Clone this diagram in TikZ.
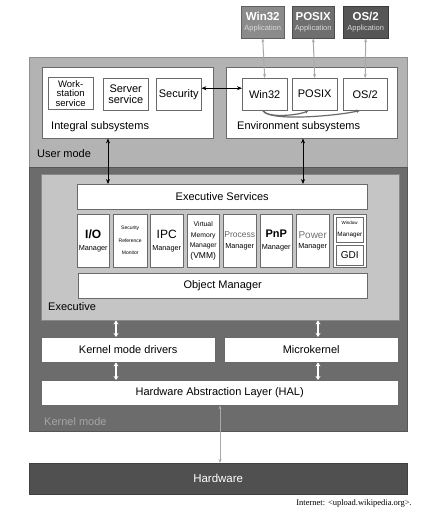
\documentclass[tikz,border=0pt]{standalone}
\usepackage{fontspec}
\setmainfont{Liberation Sans}
\newfontfamily\capfont{Liberation Serif}
\usetikzlibrary{arrows.meta}
\definecolor{userfill}{HTML}{B3B3B3}
\definecolor{kernelfill}{HTML}{6C6C6C}
\definecolor{execfill}{HTML}{C5C5C5}
\definecolor{hwfill}{HTML}{505050}
\definecolor{boxline}{HTML}{6A6A6A}
\definecolor{winapp}{HTML}{8B8B8B}
\definecolor{posixapp}{HTML}{6F6F6F}
\definecolor{osapp}{HTML}{565656}
\definecolor{linkgray}{HTML}{A8A8A8}
\newcommand{\fsz}[1]{\fontsize{#1}{#1}\selectfont}
\begin{document}
\begin{tikzpicture}
[x=1pt,y=-1pt,
  boxdecorate/.style={shape=rectangle,draw=boxline,fill=white,anchor=north west,
    inner sep=0pt,align=center,font=\fsz{11}},%
  layerdecorate/.style={shape=rectangle,draw=#1!80!black,fill=#1,anchor=north west,inner sep=0pt},%
  appdecorate/.style={boxdecorate,fill=#1,draw=#1!70!black,text=white,font=\bfseries\fsz{11.5}},%
  mgrdecorate/.style={boxdecorate,minimum height=53pt},%
  labeldecorate/.style={anchor=west,inner sep=0pt,font=\fsz{11}},%
  blackarrow/.style={{Stealth[length=5pt,width=4pt]}-{Stealth[length=5pt,width=4pt]},thick,black},%
  grayarrow/.style={{Stealth[length=4pt,width=3pt]}-{Stealth[length=4pt,width=3pt]},line width=1pt,linkgray},%
  whitearrow/.style={{Stealth[length=4pt,width=5pt]}-{Stealth[length=4pt,width=5pt]},line width=1.6pt,white},%
  curvearrow/.style={-{Stealth[length=4pt,width=3.5pt]},line width=1.2pt,boxline}]
\useasboundingbox[fill=white] (0,0) rectangle (432,515);
%% mode layers
\node (usermode) at (29,57) [layerdecorate=userfill,minimum width=378pt,minimum height=110pt] {};
\node (kernelmode) at (29,167) [layerdecorate=kernelfill,minimum width=378pt,minimum height=264pt] {};
\node (executive) at (41,174) [layerdecorate=execfill,draw=boxline!80,minimum width=358pt,minimum height=146pt] {};
%% applications
\node (win32app) at (241,6) [appdecorate=winapp,minimum width=43pt,minimum height=32pt]
  {Win32\\[-1.5pt]{\mdseries\fsz{7.5}\color{white!85!black}Application}};
\node (posixapp) at (292,6) [appdecorate=posixapp,minimum width=42pt,minimum height=32pt]
  {POSIX\\[-1.5pt]{\mdseries\fsz{7.5}\color{white!85!black}Application}};
\node (osapp) at (343,6) [appdecorate=osapp,minimum width=45pt,minimum height=32pt]
  {OS/2\\[-1.5pt]{\mdseries\fsz{7.5}\color{white!85!black}Application}};
%% user mode subsystems
\node (integral) at (42,67) [boxdecorate,minimum width=171pt,minimum height=71pt] {};
\node (environment) at (226,67) [boxdecorate,minimum width=171pt,minimum height=71pt] {};
\node (workstation) at (48,77) [boxdecorate,minimum width=45pt,minimum height=32pt,font=\fsz{9.5}] {Work-\\station\\service};
\node (server) at (103,78) [boxdecorate,minimum width=45pt,minimum height=32pt] {Server\\service};
\node (security) at (156,78) [boxdecorate,minimum width=45pt,minimum height=32pt] {Security};
\node (win32) at (242,78) [boxdecorate,minimum width=45pt,minimum height=32pt] {Win32};
\node (posix) at (292,78) [boxdecorate,minimum width=45pt,minimum height=32pt] {POSIX};
\node (os2) at (343,78) [boxdecorate,minimum width=44pt,minimum height=32pt] {OS/2};
\node (intlabel) at (51,127) [labeldecorate] {Integral subsystems};
\node (envlabel) at (237,127) [labeldecorate] {Environment subsystems};
\node (userlabel) at (37,154) [labeldecorate] {User mode};
%% executive
\node (execserv) at (77,184) [boxdecorate,minimum width=290pt,minimum height=25pt] {Executive Services};
\node (io) at (77,214) [mgrdecorate,minimum width=32pt] {{\bfseries\fsz{12}I/O}\\[1pt]{\fsz{7.3}Manager}};
\node (srm) at (113,214) [mgrdecorate,minimum width=34pt] {{\fsz{5}Security}\\[1.5pt]{\fsz{5}Reference}\\[1.5pt]{\fsz{5}Monitor}};
\node (ipc) at (150,214) [mgrdecorate,minimum width=33pt] {{\fsz{12}IPC}\\[1pt]{\fsz{7.3}Manager}};
\node (vmm) at (187,214) [mgrdecorate,minimum width=32pt] {{\fsz{6.8}Virtual}\\[-0.5pt]{\fsz{6.8}Memory}\\[-0.5pt]{\fsz{6.8}Manager}\\[-0.5pt]{\fsz{8.5}(VMM)}};
\node (proc) at (223,214) [mgrdecorate,minimum width=33pt] {{\fsz{8.5}\color{black!60}Process}\\[-0.5pt]{\fsz{7.3}Manager}};
\node (pnp) at (260,214) [mgrdecorate,minimum width=32pt] {{\bfseries\fsz{11}PnP}\\[0.5pt]{\fsz{7.3}Manager}};
\node (power) at (296,214) [mgrdecorate,minimum width=33pt] {{\fsz{10}\color{black!55}Power}\\[-0.5pt]{\fsz{7.3}Manager}};
\node (wingroup) at (333,214) [mgrdecorate,minimum width=33pt] {};
\node (winmgr) at (336,217) [boxdecorate,minimum width=27pt,minimum height=25pt] {{\fsz{4.5}Window}\\[1pt]{\fsz{6.3}Manager}};
\node (gdi) at (336,245) [boxdecorate,minimum width=27pt,minimum height=20pt,font=\fsz{10}] {GDI};
\node (objmgr) at (78,273) [boxdecorate,minimum width=289pt,minimum height=25pt] {Object Manager};
\node (execlabel) at (48,307) [labeldecorate] {Executive};
%% kernel mode
\node (kmd) at (41,337) [boxdecorate,minimum width=174pt,minimum height=25pt] {Kernel mode drivers};
\node (micro) at (224,337) [boxdecorate,minimum width=174pt,minimum height=25pt] {Microkernel};
\node (hal) at (41,380) [boxdecorate,minimum width=357pt,minimum height=25pt] {Hardware Abstraction Layer (HAL)};
\node (kernlabel) at (44,422) [labeldecorate,text=black!35] {Kernel mode};
\node (hardware) at (29,463) [boxdecorate,fill=hwfill,draw=hwfill!80!black,text=white,
  minimum width=378pt,minimum height=31pt,font=\fsz{11.5}] {Hardware};
\node (caption) at (412,503) [anchor=east,inner sep=0pt,font=\capfont\fsz{8.5}] {Internet: <upload.wikipedia.org>.};
%% connectors
\coordinate (leftarm) at (116,0);
\coordinate (rightarm) at (318,0);
\coordinate (intarm) at (108,0);
\coordinate (envarm) at (303,0);
\coordinate (halarm) at (220,0);
\foreach \app/\sys in {win32app/win32, posixapp/posix, osapp/os2} {
  \draw[grayarrow] (\app.south) -- (\sys.north);
}
\draw[blackarrow] ([yshift=6pt]security.east) -- ([yshift=6pt]win32.west);
\draw[curvearrow] ([xshift=-2pt]win32.south) .. controls +(4,8) and +(-10,5) .. ([xshift=-6pt]posix.south);
\draw[curvearrow] ([xshift=-2pt]win32.south) .. controls +(6,12) and +(-20,5) .. ([xshift=-5pt]os2.south);
\draw[blackarrow] (integral.south -| intarm) -- (execserv.north -| intarm);
\draw[blackarrow] (environment.south -| envarm) -- (execserv.north -| envarm);
\draw[whitearrow] (executive.south -| leftarm) -- (kmd.north -| leftarm);
\draw[whitearrow] (executive.south -| rightarm) -- (micro.north -| rightarm);
\draw[whitearrow] (kmd.south -| leftarm) -- (hal.north -| leftarm);
\draw[whitearrow] (micro.south -| rightarm) -- (hal.north -| rightarm);
\draw[grayarrow] (hal.south -| halarm) -- (hardware.north -| halarm);
\end{tikzpicture}
\end{document}
